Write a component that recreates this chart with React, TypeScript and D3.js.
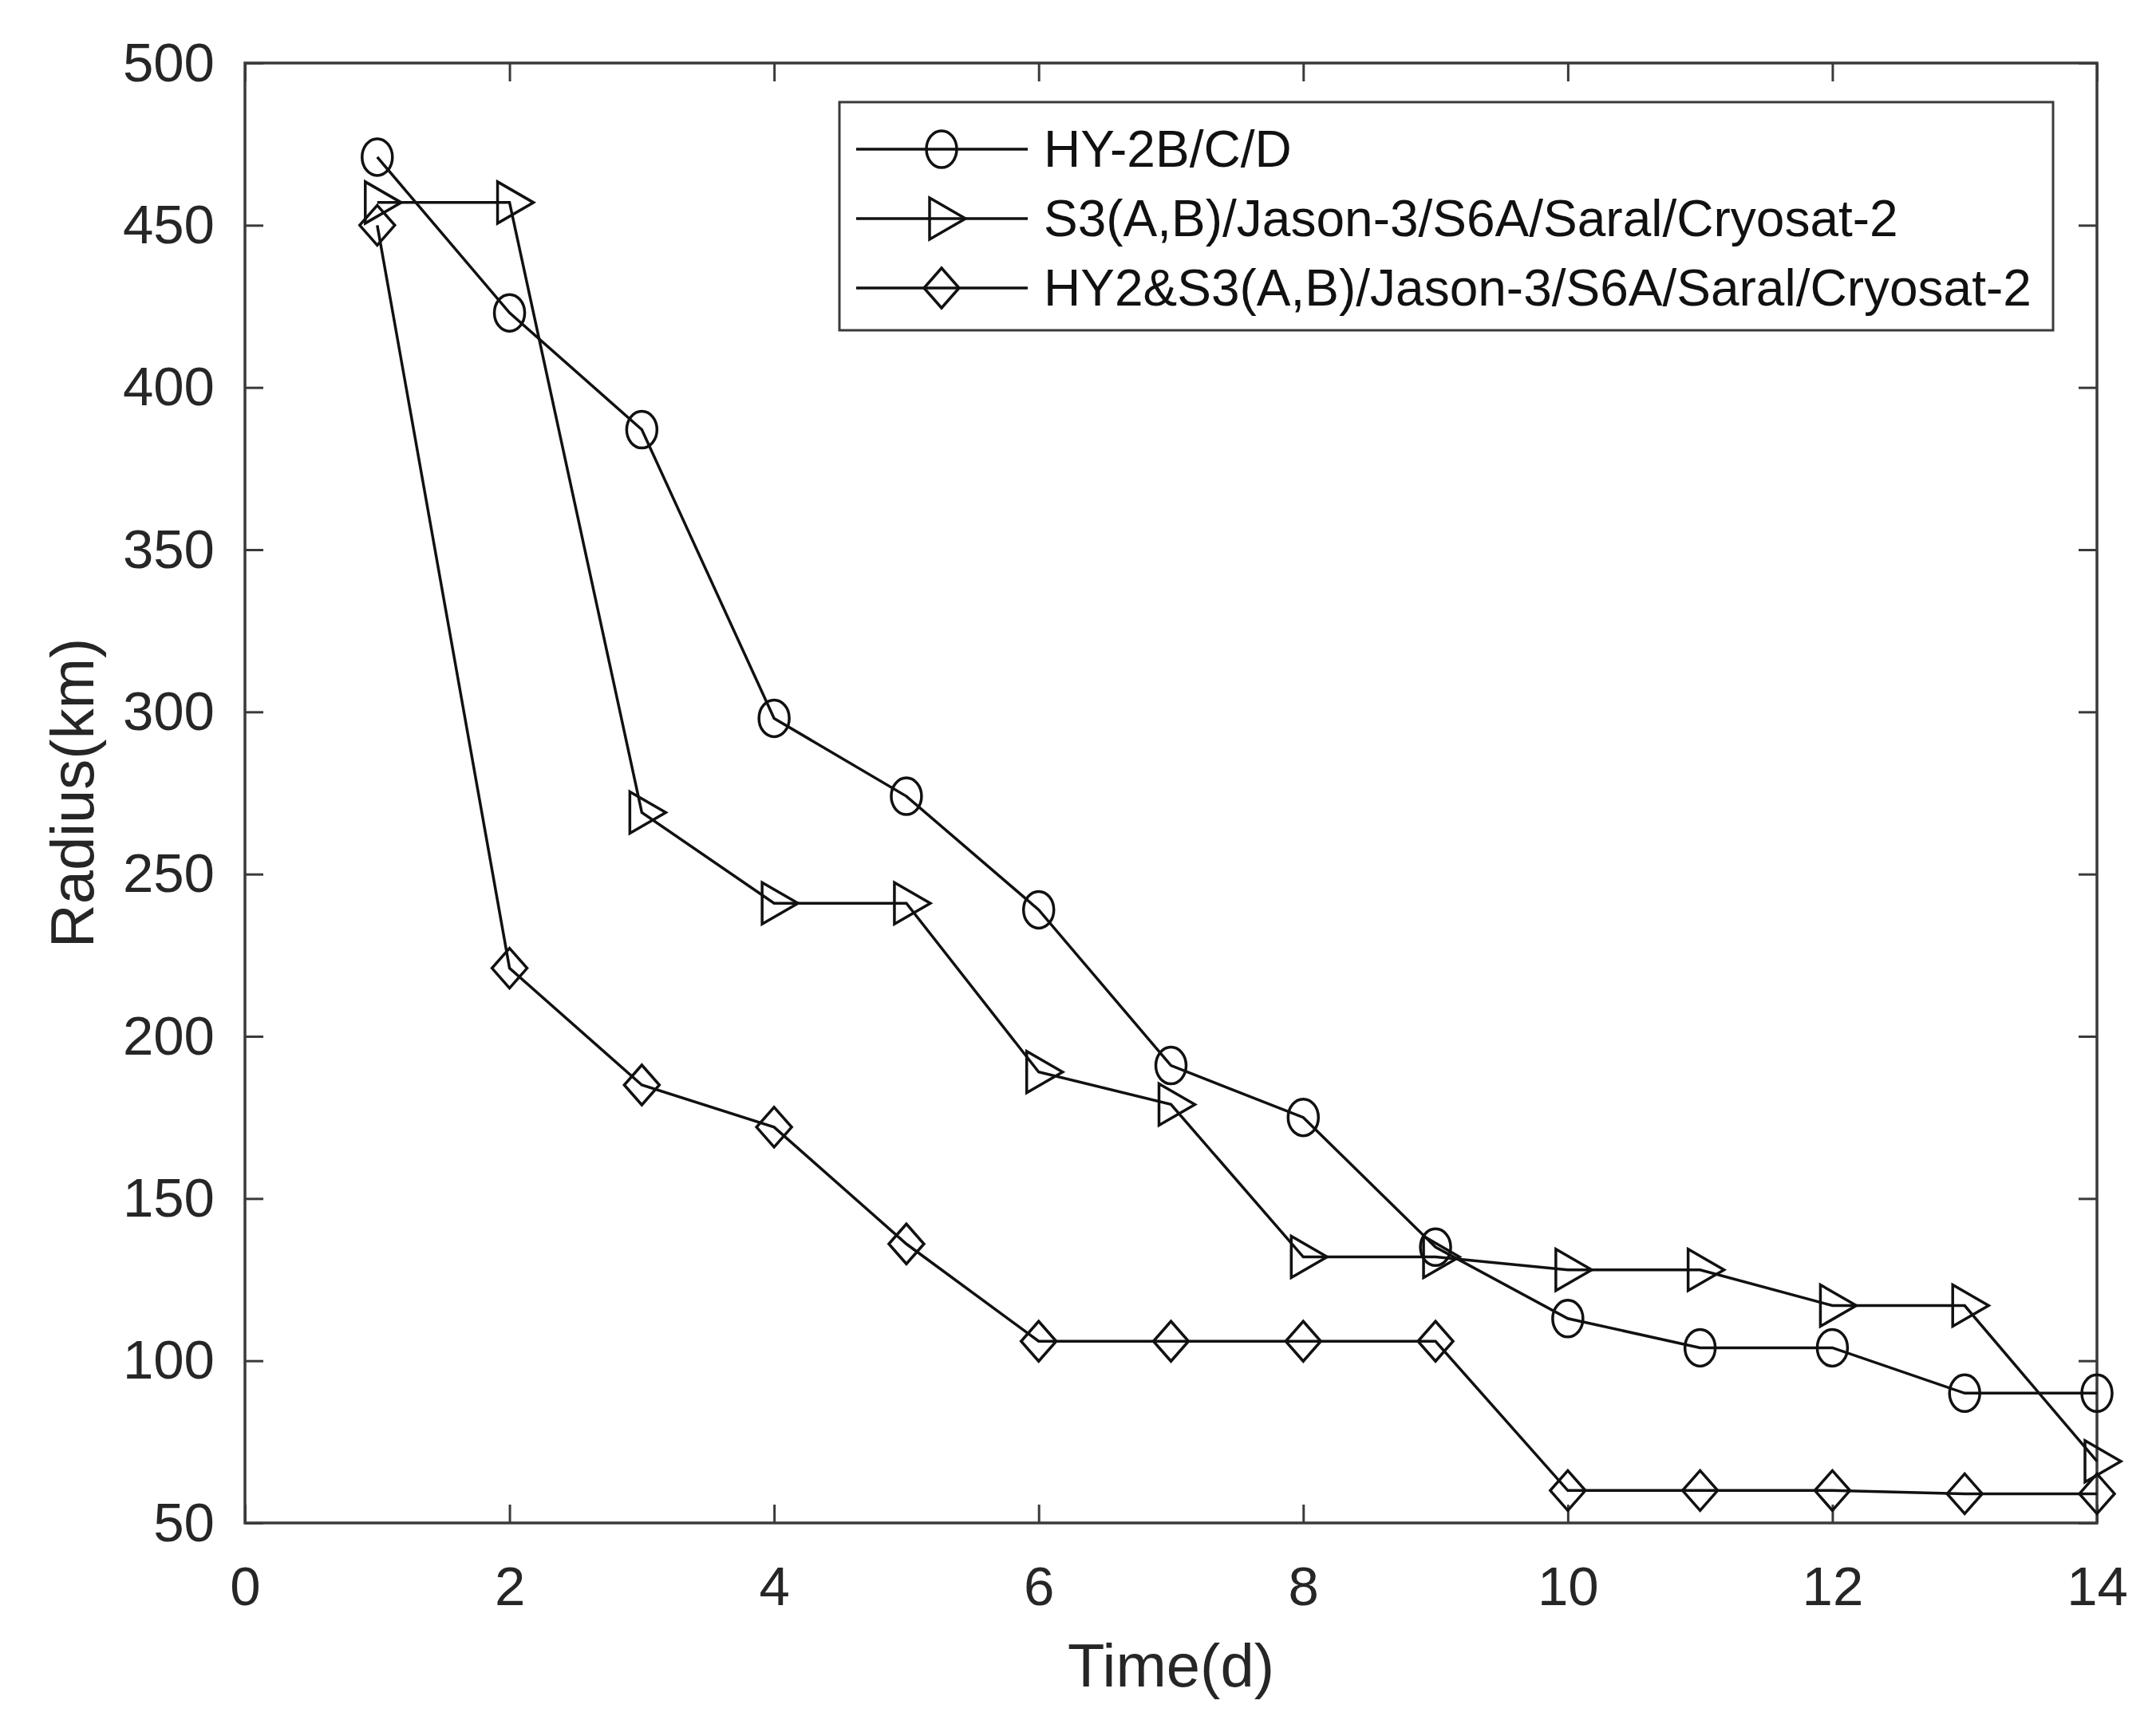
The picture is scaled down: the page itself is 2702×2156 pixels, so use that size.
import React, { useEffect, useRef } from "react";
import * as d3 from "d3";

// values (radius in km for each day)
const days = [1, 2, 3, 4, 5, 6, 7, 8, 9, 10, 11, 12, 13, 14];
const hyValues = [471, 423, 387, 298, 274, 239, 191, 175, 135, 113, 104, 104, 90, 90];
const s3Values = [457, 457, 269, 241, 241, 189, 179, 132, 132, 128, 128, 117, 117, 69];
const mergedValues = [450, 221, 185, 172, 136, 106, 106, 106, 106, 60, 60, 60, 59, 59];

const seriesNames = [
  "HY-2B/C/D",
  "S3(A,B)/Jason-3/S6A/Saral/Cryosat-2",
  "HY2&S3(A,B)/Jason-3/S6A/Saral/Cryosat-2",
];
const markerTypes = ["circle", "triangle", "diamond"];

const xTicks = [0, 2, 4, 6, 8, 10, 12, 14];
const yTicks = [50, 100, 150, 200, 250, 300, 350, 400, 450, 500];

const FONT = "'Liberation Sans', Arial, Helvetica, sans-serif";

const Chart = () => {
  const ref = useRef<SVGSVGElement | null>(null);

  useEffect(() => {
    const margin = { top: 79, right: 74, bottom: 247, left: 307 };
    const totalW = 2702;
    const totalH = 2156;
    const width = totalW - margin.left - margin.right;
    const height = totalH - margin.top - margin.bottom;

    const root = d3.select(ref.current);
    root.selectAll("*").remove();
    root.attr("width", totalW).attr("height", totalH);

    const svg = root
      .append("g")
      .attr("transform", "translate(" + margin.left + "," + margin.top + ")");

    const x = d3.scaleLinear().domain([0, 14]).range([0, width]);
    const y = d3.scaleLinear().domain([50, 500]).range([height, 0]);

    const axisColor = "#3a3a3a";
    const inkColor = "#111";
    const tickLen = 23;
    const lw = 3.5;

    // ticks on all four sides (pointing inward), labels only bottom / left
    const styleAxis = (g: any) => {
      g.select(".domain").remove();
      g.selectAll("line").attr("stroke", axisColor).attr("stroke-width", 3);
      g.selectAll("text")
        .attr("fill", "#262626")
        .style("font-family", FONT)
        .style("font-size", "69px");
    };

    svg.append("g")
      .attr("transform", "translate(0," + height + ")")
      .call(d3.axisBottom(x).tickValues(xTicks).tickSizeInner(-tickLen).tickSizeOuter(0).tickPadding(54))
      .call(styleAxis);
    svg.append("g")
      .call(d3.axisTop(x).tickValues(xTicks).tickSizeInner(-tickLen).tickSizeOuter(0).tickFormat(() => ""))
      .call(styleAxis);
    svg.append("g")
      .call(d3.axisLeft(y).tickValues(yTicks).tickSizeInner(-tickLen).tickSizeOuter(0).tickPadding(38))
      .call(styleAxis);
    svg.append("g")
      .attr("transform", "translate(" + width + ",0)")
      .call(d3.axisRight(y).tickValues(yTicks).tickSizeInner(-tickLen).tickSizeOuter(0).tickFormat(() => ""))
      .call(styleAxis);

    // axes box
    svg.append("rect")
      .attr("x", 0)
      .attr("y", 0)
      .attr("width", width)
      .attr("height", height)
      .attr("fill", "none")
      .attr("stroke", axisColor)
      .attr("stroke-width", 3.5);

    // marker drawing helper
    const drawMarker = (g: any, type: string, cx: number, cy: number) => {
      if (type === "circle") {
        g.append("ellipse")
          .attr("cx", cx).attr("cy", cy)
          .attr("rx", 19).attr("ry", 23)
          .attr("fill", "none").attr("stroke", inkColor).attr("stroke-width", lw);
      } else if (type === "triangle") {
        g.append("path")
          .attr("d", `M${cx - 15},${cy - 26}L${cx + 30},${cy}L${cx - 15},${cy + 26}Z`)
          .attr("fill", "none").attr("stroke", inkColor).attr("stroke-width", lw);
      } else {
        g.append("path")
          .attr("d", `M${cx},${cy - 25}L${cx + 22},${cy}L${cx},${cy + 25}L${cx - 22},${cy}Z`)
          .attr("fill", "none").attr("stroke", inkColor).attr("stroke-width", lw);
      }
    };

    const allSeries = [hyValues, s3Values, mergedValues];
    const line = d3.line<number>()
      .x((d, i) => x(days[i]))
      .y((d) => y(d));

    allSeries.forEach((vals, si) => {
      const g = svg.append("g");
      g.append("path")
        .attr("d", line(vals))
        .attr("fill", "none")
        .attr("stroke", inkColor)
        .attr("stroke-width", lw);
      vals.forEach((v, i) => drawMarker(g, markerTypes[si], x(days[i]), y(v)));
    });

    // axis titles
    svg.append("text")
      .attr("x", width / 2)
      .attr("y", 2114 - margin.top)
      .attr("text-anchor", "middle")
      .attr("fill", "#262626")
      .style("font-family", FONT)
      .style("font-size", "76px")
      .text("Time(d)");

    svg.append("text")
      .attr("transform", "translate(" + (117 - margin.left) + "," + height / 2 + ") rotate(-90)")
      .attr("text-anchor", "middle")
      .attr("fill", "#262626")
      .style("font-family", FONT)
      .style("font-size", "76px")
      .text("Radius(km)");

    // legend
    const lg = svg.append("g").attr("transform", "translate(" + (1052 - margin.left) + "," + (128 - margin.top) + ")");
    lg.append("rect")
      .attr("width", 1521)
      .attr("height", 286)
      .attr("fill", "white")
      .attr("stroke", axisColor)
      .attr("stroke-width", 3);

    seriesNames.forEach((name, i) => {
      const ry = 59 + i * 87;
      lg.append("line")
        .attr("x1", 21).attr("x2", 236)
        .attr("y1", ry).attr("y2", ry)
        .attr("stroke", inkColor).attr("stroke-width", lw);
      drawMarker(lg, markerTypes[i], 128, ry);
      lg.append("text")
        .attr("x", 256)
        .attr("y", ry)
        .attr("dy", "0.35em")
        .attr("fill", "#111")
        .style("font-family", FONT)
        .style("font-size", "64px")
        .text(name);
    });

    return () => {
      root.selectAll("*").remove();
    };
  }, []);

  return <svg ref={ref}></svg>;
};

export default function App() {
  return (
    <div style={{ position: "absolute", left: 0, top: 0, background: "white" }}>
      <Chart />
    </div>
  );
}
